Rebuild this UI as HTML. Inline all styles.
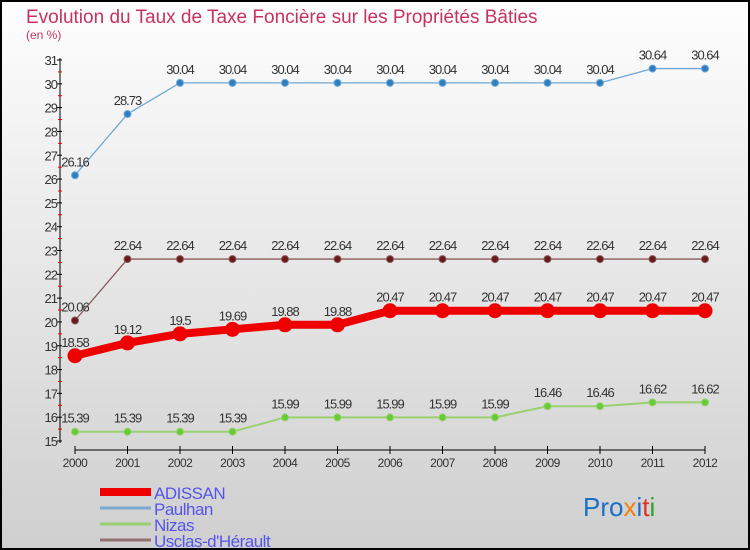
<!DOCTYPE html>
<html><head><meta charset="utf-8"><style>
html,body{margin:0;padding:0}
body{width:750px;height:550px;overflow:hidden;font-family:"Liberation Sans",sans-serif}
#wrap{position:relative;width:746px;height:546px;border:2px solid #000;background:linear-gradient(#fefefe,#cfcfcf)}
svg{position:absolute;left:-2px;top:-2px}
</style></head><body>
<div id="wrap">
<svg id="chart" width="750" height="550">
<text x="26" y="23" font-size="19" fill="#c8325f">Evolution du Taux de Taxe Foncière sur les Propriétés Bâties</text>
<text x="26" y="39" font-size="12" fill="#c8325f">(en %)</text>
<text x="583" y="516" font-size="26"><tspan fill="#1a6fc8">Pro</tspan><tspan fill="#f08010">x</tspan><tspan fill="#1a6fc8">i</tspan><tspan fill="#e03020">t</tspan><tspan fill="#30a030">i</tspan></text>
<g id="axes"></g><g id="series"></g><g id="legend"></g>
</svg>
</div>
<script>
const years=[2000,2001,2002,2003,2004,2005,2006,2007,2008,2009,2010,2011,2012];
const yTicks=[15,16,17,18,19,20,21,22,23,24,25,26,27,28,29,30,31];
const adissan=[18.58,19.12,19.5,19.69,19.88,19.88,20.47,20.47,20.47,20.47,20.47,20.47,20.47];
const paulhan=[26.16,28.73,30.04,30.04,30.04,30.04,30.04,30.04,30.04,30.04,30.04,30.64,30.64];
const nizas=[15.39,15.39,15.39,15.39,15.99,15.99,15.99,15.99,15.99,16.46,16.46,16.62,16.62];
const usclas=[20.06,22.64,22.64,22.64,22.64,22.64,22.64,22.64,22.64,22.64,22.64,22.64,22.64];
const seriesNames=["ADISSAN","Paulhan","Nizas","Usclas-d'Hérault"];
const NS="http://www.w3.org/2000/svg";
const xS=i=>75+i*52.5;
const yS=v=>441-(v-15)*(381/16);
function mk(t,a,p){const e=document.createElementNS(NS,t);for(const k in a)e.setAttribute(k,a[k]);p.appendChild(e);return e;}
const ax=document.getElementById('axes');
let l=mk('line',{x1:60,y1:58,x2:60,y2:443,stroke:'#000','stroke-width':1},ax);


yTicks.forEach(v=>{
 const t=mk('line',{x1:57,x2:62,y1:yS(v),y2:yS(v),stroke:'#000'},ax);
 
 
 if(v<31){const m=mk('line',{x1:58,x2:62,y1:yS(v+0.5),y2:yS(v+0.5),stroke:'#e00'},ax);
 
 }
 const tx=mk('text',{x:57,y:yS(v)+5,'text-anchor':'end','font-size':13,fill:'#333','letter-spacing':'-1'},ax);
 tx.textContent=v;
 
 
});
l=mk('line',{x1:75,y1:450,x2:705,y2:450,stroke:'#000'},ax);


years.forEach((y,i)=>{
 const t=mk('line',{x1:xS(i),x2:xS(i),y1:446,y2:454,stroke:'#000'},ax);
 
 
 const tx=mk('text',{x:xS(i),y:467,'text-anchor':'middle','font-size':12,fill:'#333','letter-spacing':'-0.5'},ax);
 tx.textContent=y;
 
 
});
const sg=document.getElementById('series');
function draw(vals,color,w,r,name,dot){
 const pl=mk('polyline',{points:vals.map((v,i)=>xS(i)+','+yS(v)).join(' '),fill:'none',stroke:color,'stroke-width':w,'stroke-linejoin':'round'},sg);
 
 
 vals.forEach((v,i)=>{
  const c=mk('circle',{cx:xS(i),cy:yS(v),r:r,fill:dot,stroke:color,'stroke-width':1},sg);
  
  
  const t=mk('text',{x:xS(i),y:yS(v)-9,'text-anchor':'middle','font-size':13,fill:'#333','letter-spacing':'-1'},sg);
  t.textContent=v;
  
  
 });
}
draw(paulhan,'#6fa8d8',1.3,3.5,'paulhan','#2f7fc0');
draw(usclas,'#8a5a5a',1.3,3.5,'usclas','#6a1a1a');
draw(nizas,'#99d070',2,3.5,'nizas','#66cc33');
draw(adissan,'#ee0000',8,7,'adissan','#ee0000');
const lg=document.getElementById('legend');
const lc=['#ee0000','#7aaad0','#99d070','#957070'],lw=[8,3,3,3];
seriesNames.forEach((n,i)=>{
 const y=492+i*16;
 const s=mk('line',{x1:100,x2:151,y1:y,y2:y,stroke:lc[i],'stroke-width':lw[i]},lg);
 
 
 const t=mk('text',{x:154,y:y+7,'font-size':17,fill:'#5555ee','letter-spacing':'-0.5'},lg);
 t.textContent=n;
 
 
});
</script>
</body></html>
